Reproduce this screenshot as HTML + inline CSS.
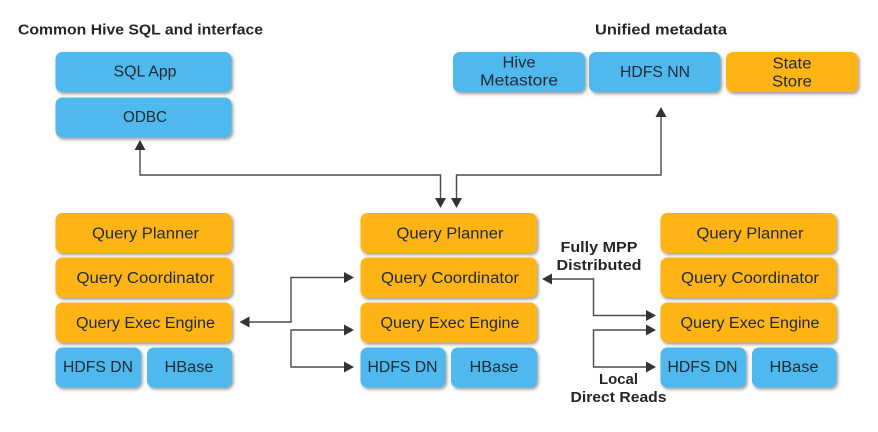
<!DOCTYPE html>
<html><head><meta charset="utf-8">
<style>
html,body{margin:0;padding:0;background:#fff;width:878px;height:432px;overflow:hidden}
svg{display:block}
text{font-family:"Liberation Sans",sans-serif;fill:#1d2a33;text-anchor:middle;font-size:15.5px}
.b{font-weight:bold;fill:#22262a;font-size:14.5px}
.o{fill:#ffb414}.c{fill:#50b8ec}
.l{fill:none;stroke:#4a4a4a;stroke-width:1.4}
.a{fill:#333}
</style></head><body>
<svg width="878" height="432" viewBox="0 0 878 432" xmlns="http://www.w3.org/2000/svg">
<defs><filter id="s" x="-10%" y="-20%" width="120%" height="150%"><feDropShadow dx="1.5" dy="2" stdDeviation="1.5" flood-color="#000" flood-opacity=".4"/></filter></defs>

<g filter="url(#s)">
<rect class="c" x="55.5" y="52" width="176" height="40" rx="7"/>
<rect class="c" x="55.5" y="97.5" width="176" height="40" rx="7"/>
<rect class="c" x="453" y="52" width="132" height="40" rx="7"/>
<rect class="c" x="589" y="52" width="131.5" height="40" rx="7"/>
<rect class="o" x="726" y="52" width="132" height="40" rx="7"/>

<rect class="o" x="55.5" y="213" width="176.500" height="40" rx="7"/>
<rect class="o" x="55.500" y="257.500" width="176.500" height="40" rx="7"/>
<rect class="o" x="55.500" y="302.500" width="176.500" height="40" rx="7"/>
<rect class="c" x="55.500" y="347.500" width="85.500" height="40" rx="7"/>
<rect class="c" x="147" y="347.500" width="85" height="40" rx="7"/>

<rect class="o" x="360.500" y="213" width="176.500" height="40" rx="7"/>
<rect class="o" x="360.500" y="257.500" width="176.500" height="40" rx="7"/>
<rect class="o" x="360.500" y="302.500" width="176.500" height="40" rx="7"/>
<rect class="c" x="360.500" y="347.500" width="85" height="40" rx="7"/>
<rect class="c" x="451" y="347.500" width="86" height="40" rx="7"/>

<rect class="o" x="660.500" y="213" width="176" height="40" rx="7"/>
<rect class="o" x="660.500" y="257.500" width="176" height="40" rx="7"/>
<rect class="o" x="660.500" y="302.500" width="176" height="40" rx="7"/>
<rect class="c" x="660.500" y="347.500" width="85.500" height="40" rx="7"/>
<rect class="c" x="752" y="347.500" width="84.500" height="40" rx="7"/>
</g>

<path class="l" d="M140 148V175H440.500V200"/>
<path class="l" d="M456.500 200V175H661V115"/>
<path class="l" d="M247 322H291V277.500H346"/>
<path class="l" d="M346 330H291V367H346"/>
<path class="l" d="M550 279H593.500V315.500H648"/>
<path class="l" d="M648 330H593.500V367H648"/>

<path class="a" d="M140 140l-5.500 10h11z"/>
<path class="a" d="M661 107l-5.500 10h11z"/>
<path class="a" d="M440.500 208l-5.500-10h11z"/>
<path class="a" d="M456.500 208l-5.500-10h11z"/>
<path class="a" d="M239.500 322l10-5.500v11z"/>
<path class="a" d="M354 277.500l-10-5.500v11z"/>
<path class="a" d="M354 330l-10-5.500v11z"/>
<path class="a" d="M354 367l-10-5.500v11z"/>
<path class="a" d="M542 279l10-5.500v11z"/>
<path class="a" d="M656 315.500l-10-5.500v11z"/>
<path class="a" d="M656 330l-10-5.500v11z"/>
<path class="a" d="M656 367l-10-5.500v11z"/>

<text class="b" x="140.500" y="34.500" textLength="245" lengthAdjust="spacingAndGlyphs">Common Hive SQL and interface</text>
<text class="b" x="661" y="34.500" textLength="132" lengthAdjust="spacingAndGlyphs">Unified metadata</text>

<text x="145" y="76.500" textLength="63" lengthAdjust="spacingAndGlyphs">SQL App</text>
<text x="145" y="122" textLength="44" lengthAdjust="spacingAndGlyphs">ODBC</text>
<text x="519" y="67.500" textLength="33" lengthAdjust="spacingAndGlyphs">Hive</text>
<text x="519" y="85.500" textLength="78" lengthAdjust="spacingAndGlyphs">Metastore</text>
<text x="655" y="77" textLength="70" lengthAdjust="spacingAndGlyphs">HDFS NN</text>
<text x="792" y="68.500" textLength="39" lengthAdjust="spacingAndGlyphs">State</text>
<text x="792" y="86.500" textLength="40" lengthAdjust="spacingAndGlyphs">Store</text>

<text x="145.500" y="238.500" textLength="107" lengthAdjust="spacingAndGlyphs">Query Planner</text>
<text x="145.500" y="283" textLength="138" lengthAdjust="spacingAndGlyphs">Query Coordinator</text>
<text x="145.500" y="328" textLength="139" lengthAdjust="spacingAndGlyphs">Query Exec Engine</text>
<text x="98" y="372" textLength="70" lengthAdjust="spacingAndGlyphs">HDFS DN</text>
<text x="189" y="372" textLength="49" lengthAdjust="spacingAndGlyphs">HBase</text>

<text x="450" y="238.500" textLength="107" lengthAdjust="spacingAndGlyphs">Query Planner</text>
<text x="450" y="283" textLength="138" lengthAdjust="spacingAndGlyphs">Query Coordinator</text>
<text x="450" y="328" textLength="139" lengthAdjust="spacingAndGlyphs">Query Exec Engine</text>
<text x="402.500" y="372" textLength="70" lengthAdjust="spacingAndGlyphs">HDFS DN</text>
<text x="494" y="372" textLength="49" lengthAdjust="spacingAndGlyphs">HBase</text>

<text x="750" y="238.500" textLength="107" lengthAdjust="spacingAndGlyphs">Query Planner</text>
<text x="750" y="283" textLength="138" lengthAdjust="spacingAndGlyphs">Query Coordinator</text>
<text x="750" y="328" textLength="139" lengthAdjust="spacingAndGlyphs">Query Exec Engine</text>
<text x="702.500" y="372" textLength="70" lengthAdjust="spacingAndGlyphs">HDFS DN</text>
<text x="794" y="372" textLength="49" lengthAdjust="spacingAndGlyphs">HBase</text>

<text class="b" x="599" y="252" textLength="77" lengthAdjust="spacingAndGlyphs">Fully MPP</text>
<text class="b" x="599" y="270" textLength="85" lengthAdjust="spacingAndGlyphs">Distributed</text>
<text class="b" x="618.500" y="384" textLength="39" lengthAdjust="spacingAndGlyphs">Local</text>
<text class="b" x="618.500" y="402" textLength="96" lengthAdjust="spacingAndGlyphs">Direct Reads</text>
</svg>
</body></html>
